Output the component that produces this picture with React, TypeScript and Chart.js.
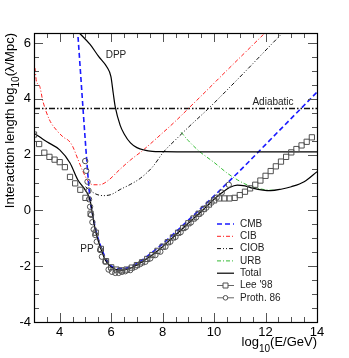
import React, { useEffect, useRef } from "react";
import { Chart, registerables } from "chart.js";
Chart.register(...registerables);

const FONT = "'Liberation Sans', Arial, Helvetica, sans-serif";

const X_TICKS = [4, 6, 8, 10, 12, 14];
const Y_TICKS = [-4, -2, 0, 2, 4, 6];
const X_MIN = 3, X_MAX = 14, Y_MIN = -4, Y_MAX = 6.36;

const cmbX = [4.69, 5.11, 5.18, 5.26, 5.4, 5.6, 5.8, 6.0, 6.25, 6.5, 7.0, 7.5, 8.0, 8.5, 9.0, 9.5, 10.0, 10.5, 11.0, 12.0, 13.0, 14.0];
const cmbY = [6.5, 1.09, 0.4, -0.05, -0.7, -1.3, -1.74, -1.99, -2.08, -2.08, -1.9, -1.57, -1.2, -0.78, -0.35, 0.08, 0.52, 0.97, 1.42, 2.36, 3.3, 4.24];

const cibX = [3.04, 3.1, 3.2, 3.35, 3.6, 3.9, 4.15, 4.35, 4.5, 4.7, 4.9, 5.1, 5.3, 5.55, 5.85, 6.35, 6.74, 7.2, 8.0, 8.5, 9.02, 9.54, 10.5, 12.0, 12.2];
const cibY = [5.1, 4.6, 4.5, 3.9, 3.25, 2.85, 2.62, 2.5, 2.3, 1.85, 1.4, 1.05, 0.92, 0.92, 1.05, 1.48, 1.8, 2.13, 2.78, 3.2, 3.67, 4.14, 5.02, 6.38, 6.56];

const ciobX = [5.0, 5.2, 5.45, 5.7, 6.0, 6.35, 6.74, 7.13, 7.6, 8.04, 8.5, 9.0, 9.8, 11.0, 12.66, 12.9];
const ciobY = [0.85, 0.7, 0.57, 0.53, 0.57, 0.75, 0.93, 1.15, 1.55, 2.1, 2.53, 2.98, 3.67, 4.78, 6.36, 6.58];

const urbX = [8.72, 9.0, 9.41, 10.0, 10.52, 10.9, 11.2, 11.5, 12.0, 12.4];
const urbY = [2.8, 2.5, 2.13, 1.72, 1.33, 1.1, 0.95, 0.84, 0.74, 0.72];

const totalX = [3.0, 3.5, 4.0, 4.4, 4.7, 5.0, 5.18, 5.26, 5.38, 5.57, 5.77, 6.09, 6.48, 6.87, 7.0, 7.5, 8.0, 8.5, 9.0, 9.5, 10.0, 10.3, 10.6, 10.9, 11.2, 11.5, 11.9, 12.2, 12.6, 13.0, 13.5, 14.0];
const totalY = [2.77, 2.46, 2.17, 1.7, 1.1, 0.72, 0.37, -0.07, -0.7, -1.3, -1.78, -2.08, -2.14, -2.02, -1.96, -1.66, -1.3, -0.88, -0.46, -0.04, 0.4, 0.63, 0.82, 0.91, 0.88, 0.8, 0.73, 0.71, 0.76, 0.85, 1.03, 1.39];

const dppX = [4.75, 5.18, 5.51, 5.84, 5.99, 6.08, 6.16, 6.35, 6.5, 6.75, 7.0, 7.3, 7.6, 8.0, 9.0, 14.0];
const dppY = [6.37, 5.95, 5.52, 5.13, 4.8, 4.2, 3.7, 3.05, 2.75, 2.42, 2.25, 2.16, 2.12, 2.11, 2.1, 2.1];

const adiabaticX = [3.0, 14.0];
const adiabaticY = [3.65, 3.65];

const leeX = [3.0, 3.2, 3.4, 3.6, 3.8, 4.0, 4.2, 4.4, 4.6, 4.8, 5.0, 5.2, 5.4, 5.6, 5.8, 6.0, 6.2, 6.4, 6.6, 6.8, 7.0, 7.2, 7.4, 7.6, 7.8, 8.0, 8.2, 8.4, 8.6, 8.8, 9.0, 9.2, 9.4, 9.6, 9.8, 10.0, 10.2, 10.4, 10.6, 10.8, 11.0, 11.2, 11.4, 11.6, 11.8, 12.0, 12.2, 12.4, 12.6, 12.8, 13.0, 13.2, 13.4, 13.6, 13.8];
const leeY = [2.72, 2.38, 2.07, 1.92, 1.82, 1.73, 1.55, 1.2, 0.97, 0.74, 0.45, -0.12, -0.8, -1.38, -1.82, -2.04, -2.12, -2.15, -2.12, -2.05, -1.96, -1.86, -1.74, -1.6, -1.45, -1.3, -1.14, -0.97, -0.8, -0.63, -0.46, -0.29, -0.12, 0.05, 0.21, 0.36, 0.43, 0.43, 0.43, 0.45, 0.55, 0.67, 0.79, 0.92, 1.07, 1.24, 1.41, 1.58, 1.75, 1.92, 2.08, 2.2, 2.33, 2.46, 2.62];

const prothX = [4.99, 5.03, 5.08, 5.12, 5.14, 5.18, 5.22, 5.27, 5.32, 5.38, 5.44, 5.57, 5.64, 5.77, 5.9, 6.03, 6.16, 6.29, 6.42, 6.55, 6.74, 6.94, 7.13, 7.33, 7.52, 7.72, 7.91, 8.11, 8.3, 8.5, 8.7, 8.9, 9.1, 9.3, 9.5, 9.7, 9.9, 10.1, 10.3, 10.57];
const prothY = [1.77, 1.42, 1.03, 0.71, 0.4, 0.13, -0.16, -0.42, -0.68, -0.88, -1.12, -1.42, -1.66, -1.84, -2.12, -2.2, -2.24, -2.24, -2.2, -2.18, -2.14, -2.02, -1.92, -1.84, -1.72, -1.6, -1.48, -1.3, -1.12, -0.95, -0.78, -0.6, -0.43, -0.25, -0.08, 0.1, 0.28, 0.46, 0.64, 0.92];

const LEGEND_LABELS = ["CMB", "CIB", "CIOB", "URB", "Total", "Lee '98", "Proth. 86"];
const ANNOTATIONS = [
  { text: "DPP", x: 116, y: 55 },
  { text: "PP", x: 87, y: 249 },
  { text: "Adiabatic", x: 273, y: 102 },
];

const pts = (xs: number[], ys: number[]) => xs.map((x, i) => ({ x, y: ys[i] }));

const STYLES = {
  cmb: { color: "#1a1aff", dash: [5, 3], width: 1.6 },
  cib: { color: "#ff2020", dash: [4, 2, 1, 2], width: 1 },
  ciob: { color: "#111111", dash: [4, 2, 1, 2, 1, 2], width: 1 },
  urb: { color: "#33bb33", dash: [4, 2, 1, 2], width: 1 },
  total: { color: "#000000", dash: [], width: 1.2 },
  adiabatic: { color: "#111111", dash: [6, 2, 1.5, 2, 1.5, 2], width: 1.5 },
};

const MARKER_COLOR = "#505050";

function lineDs(label: string, xs: number[], ys: number[], st: any) {
  return {
    label,
    data: pts(xs, ys),
    showLine: true,
    borderColor: st.color,
    borderDash: st.dash,
    borderWidth: st.width,
    pointRadius: 0,
    fill: false,
    cubicInterpolationMode: "monotone" as const,
  };
}

const overlayPlugin = {
  id: "overlay",
  afterDraw(chart: any) {
    const { ctx, chartArea: a, scales } = chart;
    const xs = scales.x, ys = scales.y;
    ctx.save();
    ctx.strokeStyle = "#555";
    ctx.lineWidth = 1;
    ctx.setLineDash([]);
    ctx.beginPath();
    for (let k = 0; k <= (X_MAX - X_MIN) * 2; k++) {
      const v = X_MIN + k * 0.5;
      const px = Math.round(xs.getPixelForValue(v)) + 0.5;
      const major = Math.abs(v % 2) < 1e-6;
      const len = major ? 9 : 5;
      ctx.moveTo(px, a.bottom); ctx.lineTo(px, a.bottom - len);
      ctx.moveTo(px, a.top); ctx.lineTo(px, a.top + len);
    }
    for (let k = 0; k <= 20; k++) {
      const v = Y_MIN + k * 0.5;
      if (v > Y_MAX) break;
      const py = Math.round(ys.getPixelForValue(v)) + 0.5;
      const major = Math.abs(v % 2) < 1e-6;
      const len = major ? 9 : 5;
      ctx.moveTo(a.left, py); ctx.lineTo(a.left + len, py);
      ctx.moveTo(a.right, py); ctx.lineTo(a.right - len, py);
    }
    ctx.stroke();
    ctx.strokeStyle = "#000";
    ctx.lineWidth = 1.2;
    ctx.strokeRect(Math.round(a.left) + 0.5, Math.round(a.top) + 0.5, Math.round(a.right - a.left), Math.round(a.bottom - a.top));

    ctx.fillStyle = "#222";
    ctx.font = `10px ${FONT}`;
    ctx.textAlign = "center";
    ctx.textBaseline = "middle";
    for (const an of ANNOTATIONS) ctx.fillText(an.text, an.x, an.y);

    const rows = [224, 236.3, 248.6, 260.9, 273.2, 285.5, 297.8];
    const styles = [STYLES.cmb, STYLES.cib, STYLES.ciob, STYLES.urb, STYLES.total];
    ctx.textAlign = "left";
    LEGEND_LABELS.forEach((lab, i) => {
      const y = rows[i];
      if (i < 5) {
        const st = styles[i];
        ctx.strokeStyle = st.color;
        ctx.lineWidth = st.width;
        ctx.setLineDash(st.dash);
        ctx.beginPath();
        ctx.moveTo(217, y); ctx.lineTo(234, y);
        ctx.stroke();
      } else {
        ctx.setLineDash([]);
        ctx.strokeStyle = "#666";
        ctx.lineWidth = 1;
        ctx.beginPath();
        ctx.moveTo(217, y); ctx.lineTo(234, y);
        ctx.stroke();
        ctx.strokeStyle = MARKER_COLOR;
        ctx.fillStyle = "#fff";
        ctx.beginPath();
        if (i === 5) ctx.rect(223, y - 2.5, 5, 5);
        else ctx.arc(225.5, y, 2.3, 0, Math.PI * 2);
        ctx.fill();
        ctx.stroke();
      }
      ctx.setLineDash([]);
      ctx.fillStyle = "#222";
      ctx.fillText(lab, 240, y);
    });

    const drawParts = (parts: { t: string; sub?: boolean }[], big: number, small: number, subOff: number) => {
      let w = 0;
      const widths = parts.map((p) => {
        ctx.font = `${p.sub ? small : big}px ${FONT}`;
        const m = ctx.measureText(p.t).width;
        w += m;
        return m;
      });
      let x = -w;
      parts.forEach((p, i) => {
        ctx.font = `${p.sub ? small : big}px ${FONT}`;
        ctx.fillText(p.t, x, p.sub ? subOff : 0);
        x += widths[i];
      });
    };
    ctx.fillStyle = "#000";
    ctx.textAlign = "left";
    ctx.textBaseline = "alphabetic";
    ctx.save();
    ctx.translate(Math.round(a.right), 346);
    drawParts([{ t: "log" }, { t: "10", sub: true }, { t: "(E/GeV)" }], 13, 10, 6);
    ctx.restore();
    ctx.save();
    ctx.translate(13.5, Math.round(a.top));
    ctx.rotate(-Math.PI / 2);
    drawParts([{ t: "Interaction length log" }, { t: "10", sub: true }, { t: "(λ/Mpc)" }], 13, 10, 5);
    ctx.restore();
    ctx.restore();
  },
};

export default function App() {
  const ref = useRef<HTMLCanvasElement | null>(null);
  useEffect(() => {
    if (!ref.current) return;
    const chart = new Chart(ref.current, {
      type: "scatter",
      data: {
        datasets: [
          {
            label: "Lee '98",
            data: pts(leeX, leeY),
            showLine: false,
            pointStyle: "rect",
            pointRadius: 3.7,
            borderColor: MARKER_COLOR,
            backgroundColor: "rgba(0,0,0,0)",
            borderWidth: 1,
          },
          {
            label: "Proth. 86",
            data: pts(prothX, prothY),
            showLine: false,
            pointStyle: "circle",
            pointRadius: 2.7,
            borderColor: MARKER_COLOR,
            backgroundColor: "rgba(0,0,0,0)",
            borderWidth: 1,
          },
          lineDs("Total", totalX, totalY, STYLES.total),
          lineDs("DPP", dppX, dppY, STYLES.total),
          lineDs("CMB", cmbX, cmbY, STYLES.cmb),
          lineDs("CIB", cibX, cibY, STYLES.cib),
          lineDs("CIOB", ciobX, ciobY, STYLES.ciob),
          lineDs("URB", urbX, urbY, STYLES.urb),
          lineDs("Adiabatic", adiabaticX, adiabaticY, STYLES.adiabatic),
        ] as any,
      },
      options: {
        animation: false,
        responsive: false,
        devicePixelRatio: 1,
        layout: { padding: { top: 33, right: 32, left: 0, bottom: 0 } },
        plugins: { legend: { display: false }, tooltip: { enabled: false } },
        scales: {
          x: {
            type: "linear",
            min: X_MIN,
            max: X_MAX,
            grid: { display: false, drawTicks: false },
            border: { display: false },
            ticks: { font: { family: FONT, size: 13 }, color: "#000", padding: 3, maxRotation: 0, autoSkip: false },
            afterBuildTicks: (s: any) => { s.ticks = X_TICKS.map((v) => ({ value: v })); },
            afterFit: (s: any) => { s.height = 36; },
          },
          y: {
            type: "linear",
            min: Y_MIN,
            max: Y_MAX,
            grid: { display: false, drawTicks: false },
            border: { display: false },
            ticks: { font: { family: FONT, size: 13 }, color: "#000", padding: 3, autoSkip: false },
            afterBuildTicks: (s: any) => { s.ticks = Y_TICKS.map((v) => ({ value: v })); },
            afterFit: (s: any) => { s.width = 34; },
          },
        },
      } as any,
      plugins: [overlayPlugin],
    });
    return () => chart.destroy();
  }, []);
  return (
    <div style={{ position: "fixed", left: 0, top: 0, width: 349, height: 358, background: "#fff" }}>
      <canvas ref={ref} width={349} height={358} style={{ display: "block" }} />
    </div>
  );
}
